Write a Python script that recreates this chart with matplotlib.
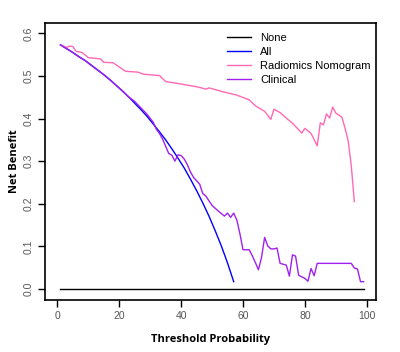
import matplotlib
matplotlib.use("Agg")
import matplotlib.pyplot as plt

# Threshold (%) and net benefit values
none_x = [1, 99]
none_y = [0.0, 0.0]

all_x = [1, 3, 5, 7, 9, 11, 13, 15, 17, 19, 21, 23, 25, 27, 29, 31, 33, 35, 37,
         39, 41, 43, 45, 47, 49, 51, 53, 55, 57]
all_y = [0.573, 0.564, 0.555, 0.545, 0.536, 0.525, 0.514, 0.503, 0.491, 0.478,
         0.465, 0.451, 0.436, 0.421, 0.405, 0.387, 0.369, 0.350, 0.329, 0.307,
         0.284, 0.258, 0.231, 0.202, 0.171, 0.137, 0.101, 0.061, 0.017]

nomo_x = [1, 3, 4, 5, 6, 8, 10, 14, 15, 18, 21, 22, 26, 28, 33, 35, 40, 44, 46,
          48, 49, 54, 58, 62, 64, 67, 69, 70, 72, 74, 76, 79, 80, 82, 84, 85,
          86, 87, 88, 89, 90, 92, 93, 94, 95, 96]
nomo_y = [0.573, 0.567, 0.570, 0.569, 0.558, 0.555, 0.543, 0.540, 0.532, 0.531,
          0.516, 0.511, 0.509, 0.504, 0.501, 0.487, 0.481, 0.476, 0.473, 0.469,
          0.472, 0.462, 0.455, 0.444, 0.430, 0.417, 0.398, 0.422, 0.414, 0.401,
          0.389, 0.366, 0.377, 0.365, 0.336, 0.390, 0.385, 0.411, 0.401, 0.427,
          0.413, 0.403, 0.377, 0.348, 0.290, 0.205]

clin_x = [1, 3, 5, 7, 9, 11, 13, 15, 17, 19, 21, 23, 25, 27, 29, 31, 32, 33, 34,
          35, 36, 37, 38, 39, 40, 41, 42, 43, 44, 46, 47, 48, 50, 52, 54, 55,
          56, 57, 58, 59, 60, 62, 63, 64, 65, 66, 67, 68, 69, 70, 71, 72, 74,
          75, 76, 77, 78, 80, 81, 82, 83, 84, 95, 96, 97, 98, 99]
clin_y = [0.573, 0.564, 0.555, 0.545, 0.536, 0.525, 0.514, 0.503, 0.491, 0.478,
          0.465, 0.451, 0.440, 0.425, 0.410, 0.391, 0.375, 0.365, 0.352, 0.335,
          0.318, 0.314, 0.300, 0.315, 0.313, 0.305, 0.292, 0.275, 0.262, 0.246,
          0.224, 0.218, 0.196, 0.183, 0.171, 0.178, 0.168, 0.178, 0.162, 0.130,
          0.092, 0.092, 0.078, 0.062, 0.045, 0.074, 0.121, 0.101, 0.094, 0.094,
          0.096, 0.060, 0.056, 0.030, 0.080, 0.077, 0.032, 0.025, 0.018, 0.048,
          0.031, 0.060, 0.060, 0.049, 0.047, 0.017, 0.017]

labels = ["None", "All", "Radiomics Nomogram", "Clinical"]
colors = ["#000000", "#0000FF", "#FF69B4", "#A020F0"]

x_ticks = [0, 20, 40, 60, 80, 100]
y_ticks = [0.0, 0.1, 0.2, 0.3, 0.4, 0.5, 0.6]

fig = plt.figure(figsize=(4.0, 3.52), dpi=100)
ax = fig.add_axes([0.1125, 0.1477, 0.8275, 0.7878])

lw = 1.0
ax.plot(none_x, none_y, color=colors[0], lw=lw, label=labels[0])
ax.plot(all_x, all_y, color=colors[1], lw=lw, label=labels[1])
ax.plot(nomo_x, nomo_y, color=colors[2], lw=lw, label=labels[2])
ax.plot(clin_x, clin_y, color=colors[3], lw=lw, label=labels[3])

ax.set_xlim(-4, 103)
ax.set_ylim(-0.026, 0.625)
ax.set_xticks(x_ticks)
ax.set_xticklabels([str(t) for t in x_ticks], family="Liberation Sans")
ax.set_yticks(y_ticks)
ax.set_yticklabels([f"{t:.1f}" for t in y_ticks], rotation=90, va="center",
                   family="Liberation Sans")
ax.tick_params(axis="both", direction="out", length=5, width=1.0,
               labelsize=7.5, labelcolor="#555555", color="#000000", pad=3)
for s in ax.spines.values():
    s.set_linewidth(1.2)

ax.set_xlabel("Threshold Probability", fontsize=8, fontweight="bold",
              family="Open Sans", labelpad=9)
ax.set_ylabel("Net Benefit", fontsize=8, fontweight="bold",
              family="Open Sans")
ax.yaxis.set_label_coords(-0.075, 0.5)

leg = ax.legend(loc="upper left", bbox_to_anchor=(0.525, 0.99), frameon=False,
                prop={"family": "Liberation Sans", "size": 8},
                handlelength=2.2, handletextpad=0.8, labelspacing=0.35,
                borderaxespad=0.3)

fig.savefig("out.png", dpi=100)
